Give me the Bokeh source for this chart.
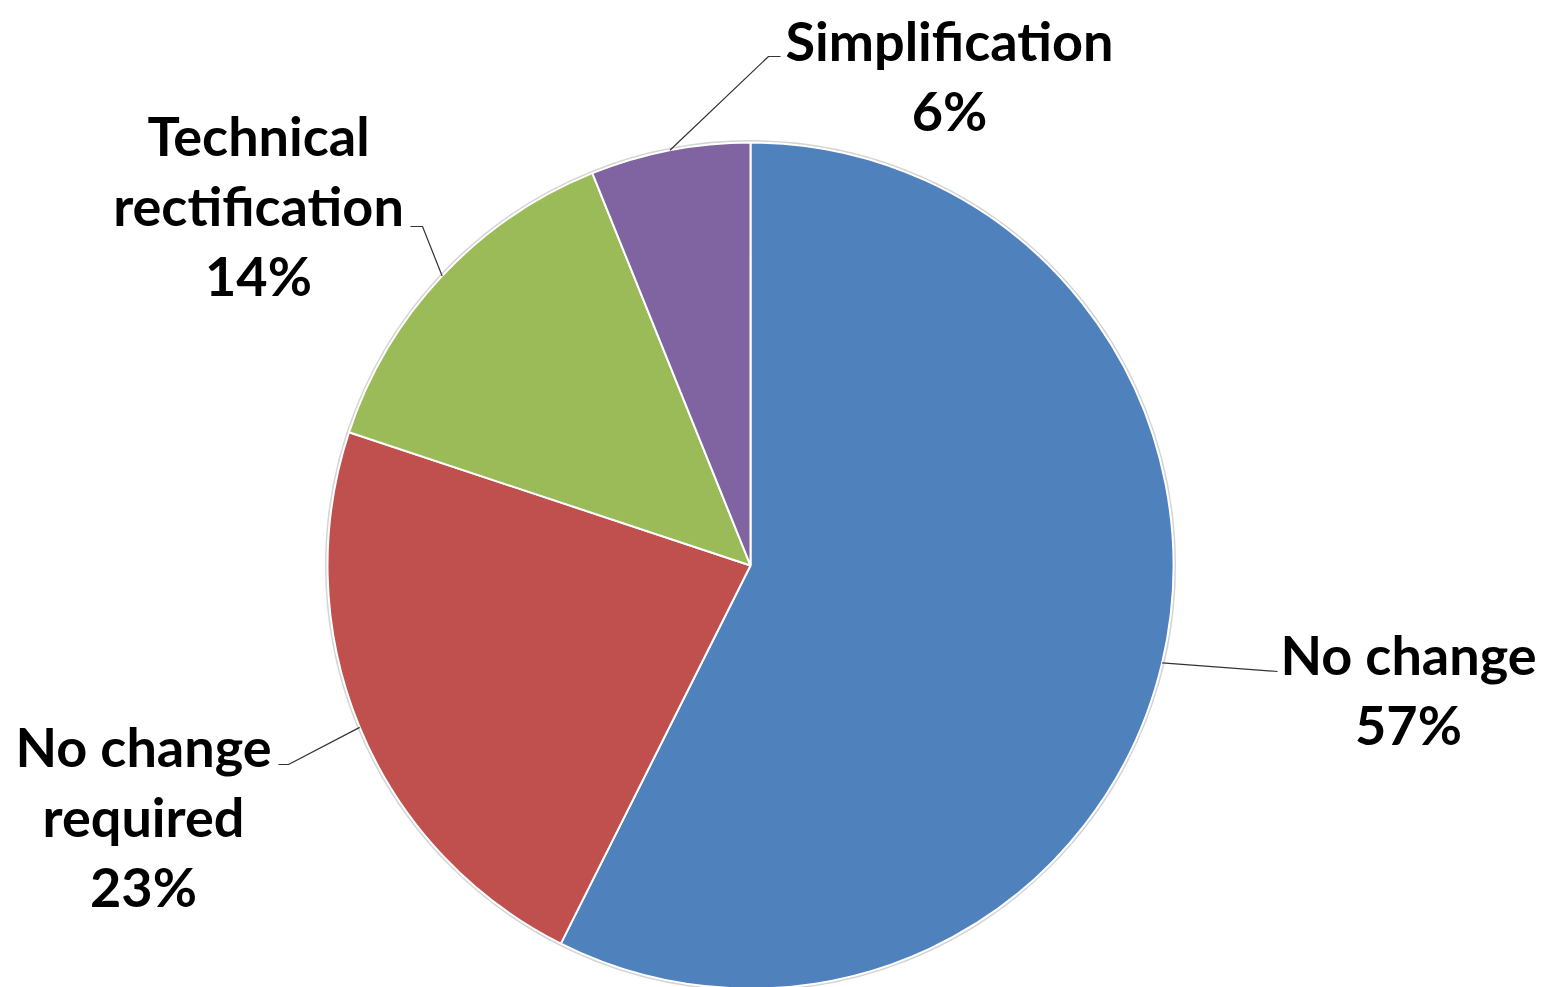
import math
from bokeh.plotting import figure
from bokeh.models import Range1d, ColumnDataSource
from bokeh.core.properties import value
from bokeh.embed import file_html
from bokeh.resources import INLINE

# ---- data ----
categories = ["No change", "No change required", "Technical rectification", "Simplification"]
values = [57.4, 22.7, 13.8, 6.1]
pct_labels = ["57%", "23%", "14%", "6%"]
label_lines = [["No change", "57%"], ["No change", "required", "23%"],
               ["Technical", "rectification", "14%"], ["Simplification", "6%"]]
colors = ["#4F81BD", "#C0504D", "#9BBB59", "#8064A2"]

W, H = 1541, 987

def Y(sy):
    return H - sy

p = figure(width=W, height=H, output_backend="svg", toolbar_location=None,
           x_range=Range1d(0, W), y_range=Range1d(0, H),
           min_border=0)
p.axis.visible = False
p.grid.visible = False
p.outline_line_color = None
p.background_fill_color = "white"
p.border_fill_color = "white"

cx, cy, R = 750, Y(565), 423
total = sum(values)
starts, ends, mids = [], [], []
cum = 0.0
for v in values:
    a0 = math.pi / 2 - 2 * math.pi * cum / total
    cum += v
    a1 = math.pi / 2 - 2 * math.pi * cum / total
    starts.append(a0)
    ends.append(a1)
    mids.append((a0 + a1) / 2)

src = ColumnDataSource(dict(start=starts, end=ends, color=colors, cat=categories))
p.circle(x=[cx], y=[cy], radius=R + 1.5, fill_color=None, line_color="#d4d4d4", line_width=2)
p.wedge(x=cx, y=cy, radius=R, start_angle="start", end_angle="end", direction="clock",
        fill_color="color", line_color="white", line_width=2, source=src)

# leader lines: from slice mid-edge to label anchor (layout positions)
anchors = [[(1277, Y(671))],
           [(288, Y(764)), (278, Y(764))],
           [(422, Y(226)), (410, Y(226))],
           [(768, Y(56)), (780, Y(56))]]
for m, anc in zip(mids, anchors):
    xs = [cx + R * math.cos(m)] + [a[0] for a in anc]
    ys = [cy + R * math.sin(m)] + [a[1] for a in anc]
    p.line(xs, ys, line_color="#333333", line_width=1.2)

# label text placement (center x, first baseline y)
label_pos = [(1408, 654), (143, 746), (258, 135), (949, 40)]
spacing = 70
tx, ty, tt = [], [], []
for lines, (lx, ly) in zip(label_lines, label_pos):
    for i, t in enumerate(lines):
        tx.append(lx)
        ty.append(Y(ly + i * spacing))
        tt.append(t)
p.text(x=tx, y=ty, text=tt, text_font=value("Lato"), text_font_style="bold",
       text_font_size="54px", text_align="center", text_baseline="alphabetic",
       text_color="black")

open("out.html", "w").write(file_html(p, INLINE))
